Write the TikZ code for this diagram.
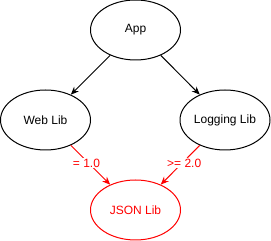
\documentclass[tikz,border=0pt]{standalone}
\usepackage{fontspec}
\setmainfont{Liberation Sans}
\usetikzlibrary{shapes.geometric,arrows.meta}
\definecolor{txt}{HTML}{000000}
\definecolor{redc}{HTML}{FF0000}
\begin{document}
\begin{tikzpicture}[x=0.75pt,y=-0.75pt,
  ell/.style={ellipse,draw,line width=0.75pt,minimum width=67.5pt,minimum height=45pt,inner sep=0pt,font=\fontsize{9}{11}\selectfont,text=txt},
  redell/.style={ell,draw=redc,text=redc},
  conn/.style={line width=0.75pt,-{Stealth[length=6pt,width=5pt]}},
  redconn/.style={conn,draw=redc},
  lbl/.style={fill=white,inner sep=0.5pt,text=redc,font=\fontsize{9}{11}\selectfont}
]
\useasboundingbox (0,0) rectangle (271,241);
\node[ell] (app) at (135.5,30) {App};
\node[ell] (web) at (45.5,120) {Web Lib};
\node[ell] (log) at (225,120) {Logging Lib};
\node[redell] (json) at (135.5,210) {JSON Lib};
\draw[conn] (app) -- (web);
\draw[conn] (app) -- (log);
\draw[redconn] (web) -- node[lbl,xshift=-3pt,yshift=1.5pt] {= 1.0} (json);
\draw[redconn] (log) -- node[lbl,xshift=3pt,yshift=1.5pt] {>= 2.0} (json);
\end{tikzpicture}
\end{document}
